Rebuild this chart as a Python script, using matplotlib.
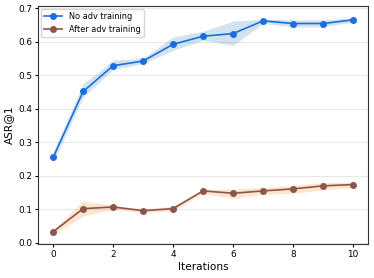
import matplotlib
matplotlib.use('Agg')
import matplotlib.pyplot as plt
import numpy as np

iters = list(range(11))

no_adv      = [0.255, 0.452, 0.529, 0.543, 0.593, 0.617, 0.625, 0.663, 0.655, 0.655, 0.666]
no_adv_lo   = [0.240, 0.435, 0.518, 0.535, 0.575, 0.605, 0.590, 0.655, 0.645, 0.645, 0.660]
no_adv_hi   = [0.272, 0.475, 0.545, 0.552, 0.615, 0.632, 0.662, 0.668, 0.666, 0.666, 0.672]

after_adv    = [0.033, 0.102, 0.107, 0.096, 0.102, 0.155, 0.148, 0.155, 0.161, 0.170, 0.174]
after_adv_lo = [0.025, 0.080, 0.100, 0.090, 0.095, 0.147, 0.133, 0.145, 0.148, 0.158, 0.165]
after_adv_hi = [0.040, 0.125, 0.112, 0.100, 0.110, 0.160, 0.160, 0.166, 0.172, 0.180, 0.181]

plt.rcParams['font.family'] = 'DejaVu Sans'
fig = plt.figure(figsize=(3.74, 2.78), dpi=100)
ax = fig.add_axes([0.102, 0.123, 0.882, 0.855])

ax.fill_between(iters, no_adv_lo, no_adv_hi, color='#1f77b4', alpha=0.2, lw=0)
ax.plot(iters, no_adv, '-o', color='#1a6fdf', ms=4, lw=1.2, label='No adv training')
ax.fill_between(iters, after_adv_lo, after_adv_hi, color='#ff7f0e', alpha=0.2, lw=0)
ax.plot(iters, after_adv, '-o', color='#8c564b', ms=4, lw=1.2, label='After adv training')

ax.set_xlim(-0.5, 10.5)
ax.set_ylim(-0.003, 0.707)
ax.set_xticks([0, 2, 4, 6, 8, 10])
ax.set_yticks([0.0, 0.1, 0.2, 0.3, 0.4, 0.5, 0.6, 0.7])
ax.tick_params(labelsize=6.4, length=2.5, width=0.8, pad=2)
ax.grid(axis='y', color='#e8e8e8', lw=0.8)
ax.set_axisbelow(True)
for s in ax.spines.values():
    s.set_color('#333333')
    s.set_linewidth(0.8)

ax.set_xlabel('Iterations', fontsize=7.6, labelpad=2)
ax.set_ylabel('ASR@1', fontsize=7.6, labelpad=3)
ax.legend(loc='upper left', fontsize=5.9, handlelength=2.2, borderaxespad=0.35,
          labelspacing=0.45)

fig.savefig('out.png', dpi=100)
